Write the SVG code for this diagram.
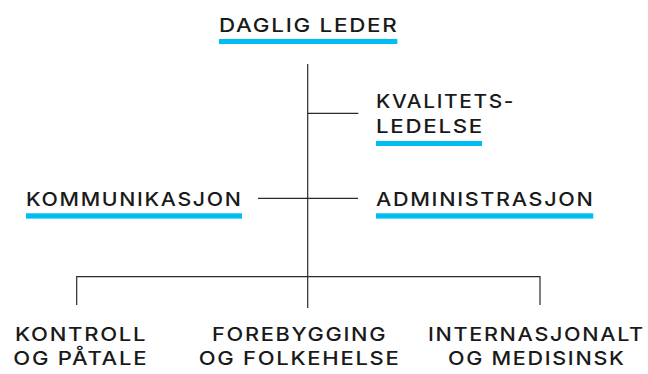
<svg xmlns="http://www.w3.org/2000/svg" width="648" height="374" viewBox="0 0 648 374">
<style>
.t{font-family:Inter,"DejaVu Sans",sans-serif;font-size:19.3px;font-weight:500;letter-spacing:1.5px;fill:#1a1a1a;}
.u{fill:#00bdf2;}
.c{stroke:#2a2a2a;stroke-width:1.2;fill:none;}
</style>
<rect width="648" height="374" fill="#ffffff"/>
<g id="connectors">
<line class="c" x1="307.7" y1="64" x2="307.7" y2="308"/>
<line class="c" x1="307.7" y1="113.3" x2="358.3" y2="113.3"/>
<line class="c" x1="258" y1="198.3" x2="358" y2="198.3"/>
<polyline class="c" points="76.7,305 76.7,276.7 540,276.7 540,305"/>
</g>
<g id="daglig-leder">
<text class="t" x="219" y="31.5" textLength="179.5" lengthAdjust="spacingAndGlyphs">DAGLIG LEDER</text>
<rect class="u" x="219" y="39" width="178.3" height="5"/>
</g>
<g id="kvalitetsledelse">
<text class="t" x="376" y="107.5" textLength="139" lengthAdjust="spacingAndGlyphs">KVALITETS-</text>
<text class="t" x="376" y="133" textLength="108" lengthAdjust="spacingAndGlyphs">LEDELSE</text>
<rect class="u" x="376" y="141" width="106" height="5"/>
</g>
<g id="kommunikasjon">
<text class="t" x="26" y="205.5" textLength="216.5" lengthAdjust="spacingAndGlyphs">KOMMUNIKASJON</text>
<rect class="u" x="26" y="213.3" width="216" height="5.3"/>
</g>
<g id="administrasjon">
<text class="t" x="376" y="205.5" textLength="218.5" lengthAdjust="spacingAndGlyphs">ADMINISTRASJON</text>
<rect class="u" x="376" y="213.3" width="217.3" height="5.3"/>
</g>
<g id="kontroll">
<text class="t" x="15" y="340.7" textLength="132.2" lengthAdjust="spacingAndGlyphs">KONTROLL</text>
<text class="t" x="13.3" y="365" textLength="134.9" lengthAdjust="spacingAndGlyphs">OG PÅTALE</text>
</g>
<g id="forebygging">
<text class="t" x="212" y="340.7" textLength="175.2" lengthAdjust="spacingAndGlyphs">FOREBYGGING</text>
<text class="t" x="198.7" y="365" textLength="201.8" lengthAdjust="spacingAndGlyphs">OG FOLKEHELSE</text>
</g>
<g id="internasjonalt">
<text class="t" x="428" y="340.7" textLength="216.8" lengthAdjust="spacingAndGlyphs">INTERNASJONALT</text>
<text class="t" x="448" y="365" textLength="177.5" lengthAdjust="spacingAndGlyphs">OG MEDISINSK</text>
</g>
</svg>
